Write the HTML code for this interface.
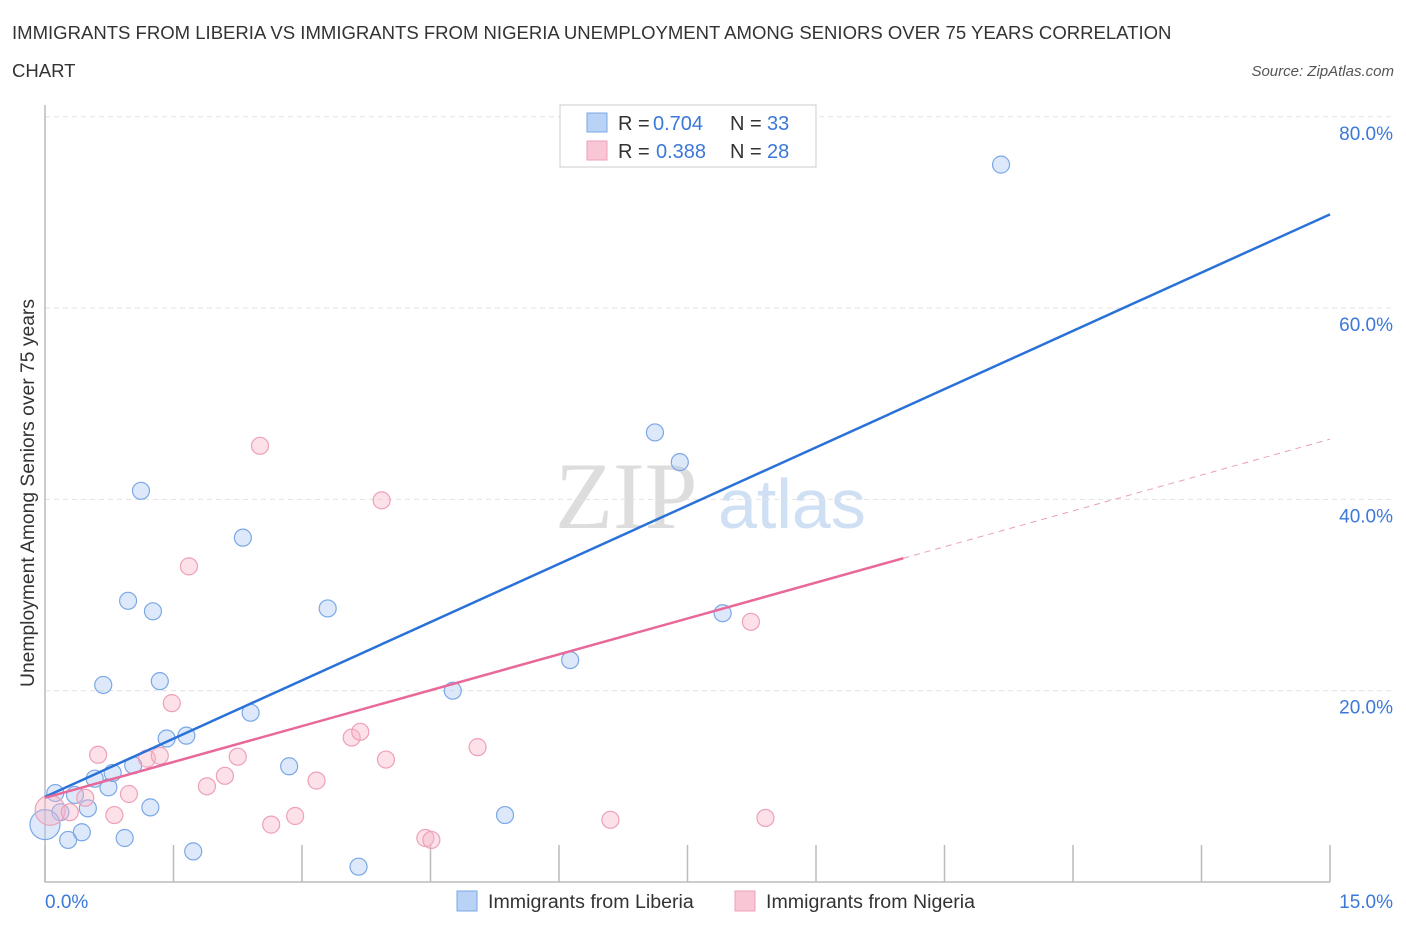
<!DOCTYPE html>
<html><head><meta charset="utf-8"><style>
body{margin:0;background:#fff;font-family:"Liberation Sans",sans-serif}
</style></head><body>
<svg width="1406" height="930" xmlns="http://www.w3.org/2000/svg" font-family="Liberation Sans, sans-serif">
<text x="12" y="39" font-size="18.55" fill="#333">IMMIGRANTS FROM LIBERIA VS IMMIGRANTS FROM NIGERIA UNEMPLOYMENT AMONG SENIORS OVER 75 YEARS CORRELATION</text>
<text x="12" y="77" font-size="18.55" fill="#333">CHART</text>
<text x="1394" y="76" font-size="15" fill="#555" font-style="italic" text-anchor="end">Source: ZipAtlas.com</text>
<g><text x="555" y="528" font-size="95" font-family="Liberation Serif, serif" fill="#ddd">ZIP</text><text x="718" y="528" font-size="70" fill="#cfe0f4">atlas</text></g>
<g id="grid"></g><g id="axes"></g><g id="pts"></g><g id="lines"></g>
<text transform="translate(34,493) rotate(-90)" font-size="19.3" fill="#333" text-anchor="middle">Unemployment Among Seniors over 75 years</text>
<text x="45" y="908" font-size="19" fill="#3b78d8">0.0%</text>
<text x="1393" y="908" font-size="19" fill="#3b78d8" text-anchor="end">15.0%</text>
<g>
<rect x="560" y="105" width="256" height="62" fill="#fff" stroke="#ccc"/>
<rect x="587" y="113" width="20" height="19" fill="#b8d3f5" stroke="#7aa8e6"/>
<rect x="587" y="141" width="20" height="19" fill="#f9c6d5" stroke="#eea0b8"/>
<text x="618" y="130" font-size="20" fill="#333">R =</text>
<text x="653" y="130" font-size="20" fill="#3b78d8">0.704</text>
<text x="730" y="130" font-size="20" fill="#333">N =</text>
<text x="767" y="130" font-size="20" fill="#3b78d8">33</text>
<text x="618" y="158" font-size="20" fill="#333">R =</text>
<text x="656" y="158" font-size="20" fill="#3b78d8">0.388</text>
<text x="730" y="158" font-size="20" fill="#333">N =</text>
<text x="767" y="158" font-size="20" fill="#3b78d8">28</text>
</g>
<g>
<rect x="457" y="891" width="20" height="20" fill="#b8d3f5" stroke="#7aa8e6"/>
<text x="488" y="908" font-size="19.6" fill="#333">Immigrants from Liberia</text>
<rect x="735" y="891" width="20" height="20" fill="#f9c6d5" stroke="#eea0b8"/>
<text x="766" y="908" font-size="19.6" fill="#333">Immigrants from Nigeria</text>
</g>
</svg>
<script>
const liberiaX=[0.12,0.18,0.27,0.43,0.50,0.58,0.68,0.74,0.79,0.93,0.97,1.03,1.12,1.23,1.26,1.34,1.42,1.65,1.73,2.31,2.40,2.85,3.30,3.66,4.76,5.37,6.13,7.12,7.41,7.91,11.16,0.0,0.35];
const liberiaY=[9.3,7.3,4.4,5.2,7.7,10.8,20.6,9.9,11.4,4.6,29.4,12.2,40.9,7.8,28.3,21.0,15.0,15.3,3.2,36.0,17.7,12.1,28.6,1.6,20.0,7.0,23.2,47.0,43.9,28.1,75.0,6.0,9.1];
const nigeriaX=[0.06,0.29,0.47,0.62,0.81,0.98,1.19,1.34,1.48,1.68,1.89,2.10,2.25,2.51,2.64,2.92,3.17,3.58,3.68,3.93,3.98,4.44,4.51,5.05,6.60,8.24,8.41,8.84];
const nigeriaY=[7.5,7.3,8.8,13.3,7.0,9.2,12.9,13.2,18.7,33.0,10.0,11.1,13.1,45.6,6.0,6.9,10.6,15.1,15.7,39.9,12.8,4.6,4.4,14.1,6.5,27.2,6.7,78.5];
const liberiaFit=[8.9,69.8];
const nigeriaFit=[8.8,46.3];
const nigeriaSolidEnd=10.02;
const yTicks=[20,40,60,80];
const yTickLabels=["20.0%","40.0%","60.0%","80.0%"];
const xTicks=[0,1.5,3,4.5,6,7.5,9,10.5,12,13.5,15];
const NS="http://www.w3.org/2000/svg";
const X=v=>45+v/15*1285, Y=v=>882-v*9.565;
function mk(p,t,a){const e=document.createElementNS(NS,t);for(const k in a)e.setAttribute(k,a[k]);document.getElementById(p).appendChild(e);return e;}
yTicks.forEach((t,i)=>{
 const l=mk('grid','line',{x1:45,x2:1395,y1:Y(t),y2:Y(t),stroke:'#e2e2e2','stroke-dasharray':'5,4'});
 
 
 const tx=mk('grid','text',{x:1393,y:Y(t)+23,'font-size':19,fill:'#3b78d8','text-anchor':'end'});tx.textContent=yTickLabels[i];
 
 
});
const ax=mk('axes','path',{d:'M45,105V882H1330',stroke:'#bbb',fill:'none','stroke-width':1.5});


xTicks.forEach(t=>{const l=mk('axes','line',{x1:X(t),x2:X(t),y1:845,y2:882,stroke:'#bbb','stroke-width':1.5});
 
 });
function pts(xs,ys,fill,stroke,name){xs.forEach((x,i)=>{const r=(x===0||(x<0.1&&name==='nigeria-point'))?15:8.5;
 const c=mk('pts','circle',{cx:X(x),cy:Y(ys[i]),r:r,fill:fill,stroke:stroke,'stroke-width':1.2});
 
 });}
pts(liberiaX,liberiaY,'rgba(170,200,242,0.4)','#7aa8e6','liberia-point');
pts(nigeriaX,nigeriaY,'rgba(248,180,200,0.4)','#eea0b8','nigeria-point');
const nf=x=>nigeriaFit[0]+(nigeriaFit[1]-nigeriaFit[0])*x/15;
let l1=mk('lines','line',{x1:X(0),y1:Y(liberiaFit[0]),x2:X(15),y2:Y(liberiaFit[1]),stroke:'#2a72d8','stroke-width':2.5});


let l2=mk('lines','line',{x1:X(0),y1:Y(nf(0)),x2:X(nigeriaSolidEnd),y2:Y(nf(nigeriaSolidEnd)),stroke:'#e8689a','stroke-width':2.5});


let l3=mk('lines','line',{x1:X(nigeriaSolidEnd),y1:Y(nf(nigeriaSolidEnd)),x2:X(15),y2:Y(nf(15)),stroke:'#e8a0bb','stroke-width':1,'stroke-dasharray':'6,5'});


</script>
</body></html>
